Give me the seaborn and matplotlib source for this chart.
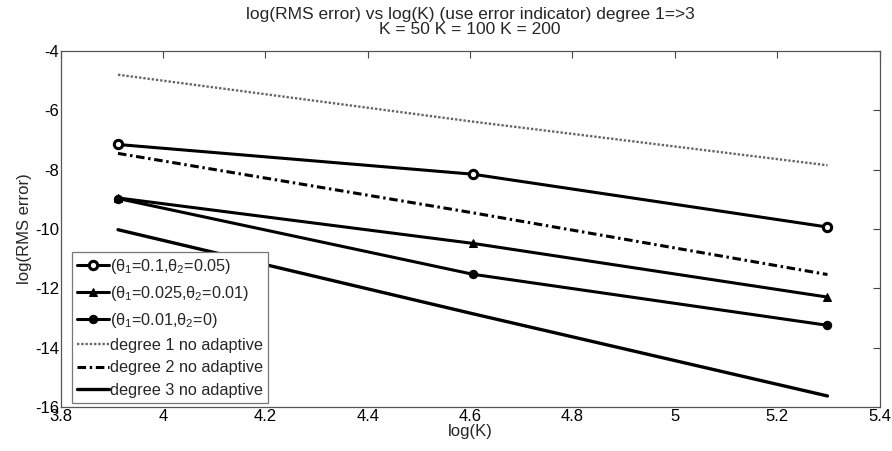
import numpy as np
import pandas as pd
import matplotlib
matplotlib.use("Agg")
import matplotlib.pyplot as plt
import seaborn as sns

# K values and the log of each
K = [50, 100, 200]
logK = list(np.log(K))

# log(RMS error) for the adaptive runs
err_theta_a = [-7.15, -8.15, -9.93]   # theta1=0.1, theta2=0.05
err_theta_b = [-8.95, -10.48, -12.29]  # theta1=0.025, theta2=0.01
err_theta_c = [-8.97, -11.52, -13.24]  # theta1=0.01, theta2=0

# log(RMS error) without adaptivity
err_deg1 = [-4.80, -6.38, -7.85]
err_deg2 = [-7.45, -9.45, -11.53]
err_deg3 = [-10.02, -12.85, -15.62]

labels = [r"($\theta_1$=0.1,$\theta_2$=0.05)",
          r"($\theta_1$=0.025,$\theta_2$=0.01)",
          r"($\theta_1$=0.01,$\theta_2$=0)",
          "degree 1 no adaptive",
          "degree 2 no adaptive",
          "degree 3 no adaptive"]

sns.set_style("white")
plt.rcParams["font.family"] = ["Liberation Sans", "DejaVu Sans"]
plt.rcParams["mathtext.fontset"] = "custom"
plt.rcParams["mathtext.rm"] = "Liberation Sans"
plt.rcParams["mathtext.it"] = "Liberation Sans"
plt.rcParams["axes.unicode_minus"] = False

fig = plt.figure(figsize=(8.92, 4.51), dpi=100)
ax = fig.add_axes([0.068, 0.097, 0.918, 0.790])

series = [
    (err_theta_a, dict(marker="o", markersize=6, markerfacecolor="white",
                       markeredgewidth=2.2, linewidth=2.2, linestyle="-")),
    (err_theta_b, dict(marker="^", markersize=6, markerfacecolor="black",
                       linewidth=2.2, linestyle="-")),
    (err_theta_c, dict(marker="o", markersize=6, markerfacecolor="black",
                       linewidth=2.2, linestyle="-")),
    (err_deg1, dict(linewidth=1.7, linestyle=(0, (1, 0.8)), color="#666666")),
    (err_deg2, dict(linewidth=2.2, linestyle=(0, (2.8, 1.2, 0.8, 1.2)))),
    (err_deg3, dict(linewidth=2.4, linestyle="-")),
]

for (vals, style), lab in zip(series, labels):
    df = pd.DataFrame({"logK": logK, "err": vals})
    kw = dict(color="black", markeredgecolor="black")
    kw.update(style)
    sns.lineplot(data=df, x="logK", y="err", ax=ax, label=lab, **kw)

ax.set_xlim(3.8, 5.4)
ax.set_ylim(-16, -4)
ax.set_xticks([3.8, 4.0, 4.2, 4.4, 4.6, 4.8, 5.0, 5.2, 5.4])
ax.set_xticklabels(["3.8", "4", "4.2", "4.4", "4.6", "4.8", "5", "5.2", "5.4"])
ax.set_yticks([-16, -14, -12, -10, -8, -6, -4])
ax.tick_params(direction="in", length=5, width=0.8, colors="#444444",
               labelcolor="black", labelsize=12, top=True, right=True, pad=1)
for sp in ax.spines.values():
    sp.set_color("#555555")
    sp.set_linewidth(0.9)

ax.set_xlabel("log(K)", fontsize=12, labelpad=0)
ax.set_ylabel("log(RMS error)", fontsize=12, labelpad=2)
ax.set_title("log(RMS error) vs log(K) (use error indicator) degree 1=>3\n"
             "K = 50 K = 100 K = 200", fontsize=12.5, linespacing=1.0, pad=12)

leg = ax.legend(loc="lower left", bbox_to_anchor=(0.014, 0.012), fontsize=11.7,
                frameon=True, fancybox=False, framealpha=1.0, handlelength=2.0,
                handletextpad=0.05, borderpad=0.3, labelspacing=0.48,
                borderaxespad=0)
leg.get_frame().set_edgecolor("#777777")
leg.get_frame().set_linewidth(0.9)

fig.savefig("out.png", dpi=100)
